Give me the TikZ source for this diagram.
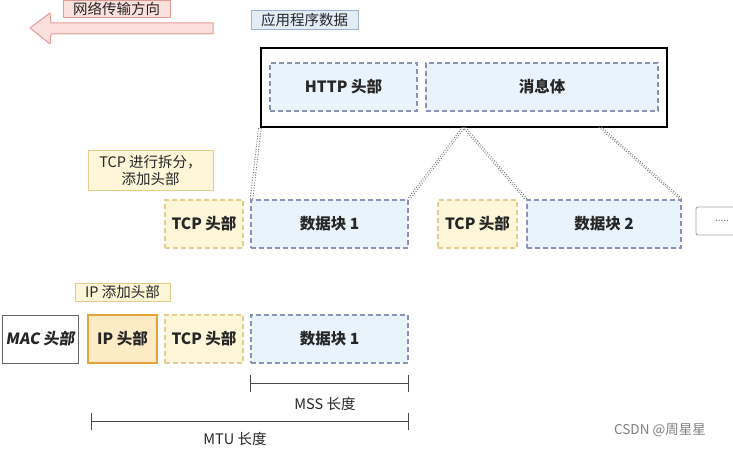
\documentclass[tikz,border=0pt]{standalone}
\usepackage{fontspec}
\setmainfont{Noto Sans CJK SC}
\newfontfamily\slantcjk{Noto Sans CJK SC}[FakeSlant=0.15]
\usetikzlibrary{arrows.meta,positioning,calc}

\definecolor{pinkfill}{HTML}{FBE0DD}
\definecolor{pinkline}{HTML}{E39A94}
\definecolor{bluefill}{HTML}{E8F3FC}
\definecolor{blueline}{HTML}{8C93B8}
\definecolor{tagblue}{HTML}{E2EDF8}
\definecolor{tagline}{HTML}{9DB2CC}
\definecolor{yelfill}{HTML}{FDF6D8}
\definecolor{yelline}{HTML}{E5CC8C}
\definecolor{ipfill}{HTML}{FDEBC6}
\definecolor{ipline}{HTML}{E3A43C}

\begin{document}
\begin{tikzpicture}[x=1pt,y=-1pt,
  txt/.style={font=\fontsize{14.5}{17}\selectfont, text=black!85},
  hdr/.style={font=\fontsize{15.5}{17}\selectfont\bfseries, text=black!85},
  tag/.style={txt, draw, line width=0.6pt, inner sep=0pt, align=center},
  datablk/.style={hdr, draw=blueline, fill=bluefill, line width=1.1pt,
    dash pattern=on 5pt off 3pt, minimum height=48pt, inner sep=0pt},
  tcpblk/.style={hdr, draw=yelline, fill=yelfill, line width=1.1pt,
    dash pattern=on 5pt off 3pt, minimum height=48pt, inner sep=0pt},
  split/.style={draw=black!55, line width=0.9pt, dash pattern=on 1pt off 1.6pt},
  measure/.style={draw=black!70, line width=0.9pt, {Bar[width=17pt]}-{Bar[width=17pt]}}]
\useasboundingbox (0,0) rectangle (733,449);
% direction of transfer
\draw[draw=pinkline, fill=pinkfill, line width=1pt, line join=round]
  (30,28) -- (50,13) -- (51,23) -- (213,23) -- (213,34) -- (51,34) -- (50,44) -- cycle;
\node[tag, draw=pinkline, fill=pinkfill, minimum width=107pt, minimum height=17pt] (dirtag) at (116.5,9) {网络传输方向};
% application data
\node[tag, draw=tagline, fill=tagblue, minimum width=107pt, minimum height=19pt] (apptag) at (304.5,19.5) {应用程序数据};
\node[draw=black, line width=2.2pt, fill=white, minimum width=406pt, minimum height=79pt] (app) at (464,87.5) {};
\node[datablk, minimum width=147pt] (http) at (343.5,87) {HTTP 头部};
\node[datablk, minimum width=232pt] (body) at (542,87) {消息体};
% TCP segments
\node[tag, draw=yelline, fill=yelfill, minimum width=125pt, minimum height=40pt] (tcptag) at (150.5,170) {TCP 进行拆分，\\添加头部};
\node[tcpblk, minimum width=78pt] (tcpa) at (204,224) {TCP 头部};
\node[datablk, minimum width=157pt] (blka) at (329.5,224) {数据块 1};
\node[tcpblk, minimum width=79pt] (tcpb) at (477.5,224) {TCP 头部};
\node[datablk, minimum width=154pt] (blkb) at (604,224) {数据块 2};
\node[draw=black!35, line width=0.9pt, rounded corners=2pt, minimum width=52pt, minimum height=28pt,
  text=black!55, font=\fontsize{10}{11}\selectfont] (more) at (722,221) {.....};
% split lines, drawn twice side by side
\coordinate (cuta) at (464,127);
\coordinate (cutb) at (600,127);
\foreach \s in {-1.3,1.3} {
  \draw[split, transform canvas={xshift=\s pt}] (app.south west) -- ([xshift=1pt]blka.north west);
  \draw[split, transform canvas={xshift=\s pt}] (cuta) -- (blka.north east);
  \draw[split, transform canvas={xshift=\s pt}] (cuta) -- (blkb.north west);
  \draw[split, transform canvas={xshift=\s pt}] (cutb) -- (blkb.north east);
}
% IP packet
\node[tag, draw=yelline, fill=yelfill, minimum width=95pt, minimum height=18pt] (iptag) at (122.5,292) {IP 添加头部};
\node[hdr, draw=black!60, line width=1pt, fill=white, minimum width=76pt, minimum height=48pt, inner sep=0pt] (mac) at (40,339) {\slantcjk\bfseries MAC 头部};
\node[hdr, draw=ipline, fill=ipfill, line width=1.3pt, minimum width=69pt, minimum height=48pt, inner sep=0pt] (ip) at (122.5,339) {IP 头部};
\node[tcpblk, minimum width=78pt] (tcpc) at (204,339) {TCP 头部};
\node[datablk, minimum width=157pt] (blkc) at (329.5,339) {数据块 1};
% lengths
\coordinate (mssy) at (0,383);
\coordinate (mtuy) at (0,421);
\draw[measure] (blkc.south west |- mssy) -- (blkc.south east |- mssy);
\node[txt] (msslbl) at (325,404) {MSS 长度};
\draw[measure] ([xshift=4pt]ip.south west |- mtuy) -- (blkc.south east |- mtuy);
\node[txt] (mtulbl) at (235,439) {MTU 长度};
\node[txt, text=black!50, font=\fontsize{13.5}{15}\selectfont] (mark) at (660,430) {CSDN @周星星};
\end{tikzpicture}
\end{document}
